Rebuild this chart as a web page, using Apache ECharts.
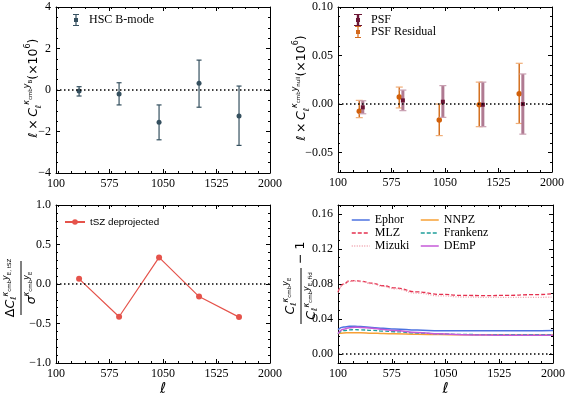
<!DOCTYPE html>
<html>
<head>
<meta charset="utf-8">
<script src="https://cdn.jsdelivr.net/npm/echarts@6/dist/echarts.min.js"></script>
<style>
  html, body { margin: 0; padding: 0; background: #fff; }
  #chart { width: 568px; height: 398px; }
</style>
</head>
<body>
<div id="chart"></div>
<script>
// ---- data ----
var ellBins = [305, 660, 1015, 1370, 1725];
var bmode   = [-0.05, -0.19, -1.55, 0.32, -1.25];
var bmodeLo = [-0.29, -0.72, -2.40, -0.83, -2.67];
var bmodeHi = [0.16, 0.35, -0.72, 1.44, 0.19];

var psfEll = [320, 676, 1031, 1386, 1741];
var psf    = [-0.0034, 0.0038, 0.0024, -0.0007, 0.0];
var psfLo  = [-0.0100, -0.0068, -0.0137, -0.0233, -0.0310];
var psfHi  = [0.0034, 0.0144, 0.0190, 0.0226, 0.0310];

var resEll = [289, 644, 999, 1354, 1709];
var res    = [-0.0075, 0.0072, -0.0164, -0.0007, 0.0106];
var resLo  = [-0.0140, -0.0040, -0.0325, -0.0233, -0.0200];
var resHi  = [0.0038, 0.0175, 0.0000, 0.0226, 0.0420];

var tsz = [0.065, -0.415, 0.337, -0.159, -0.419];

var ellCurve = [100, 150, 200, 250, 300, 400, 500, 600, 800, 1000, 1200, 1400, 1600, 1800, 2000];
var ephor    = [0.0280, 0.0310, 0.0318, 0.0318, 0.0315, 0.0305, 0.0295, 0.0287, 0.0275, 0.0268, 0.0266, 0.0266, 0.0267, 0.0268, 0.0270];
var mlz      = [0.0710, 0.0800, 0.0835, 0.0838, 0.0832, 0.0810, 0.0780, 0.0755, 0.0710, 0.0682, 0.0670, 0.0668, 0.0670, 0.0678, 0.0688];
var mizuki   = [0.0700, 0.0795, 0.0830, 0.0833, 0.0827, 0.0803, 0.0773, 0.0745, 0.0695, 0.0665, 0.0652, 0.0648, 0.0647, 0.0648, 0.0650];
var nnpz     = [0.0235, 0.0243, 0.0245, 0.0245, 0.0244, 0.0240, 0.0236, 0.0233, 0.0228, 0.0224, 0.0222, 0.0221, 0.0220, 0.0220, 0.0220];
var frankenz = [0.0235, 0.0268, 0.0278, 0.0280, 0.0278, 0.0272, 0.0264, 0.0256, 0.0242, 0.0232, 0.0226, 0.0223, 0.0222, 0.0222, 0.0222];
var demp     = [0.0235, 0.0285, 0.0303, 0.0307, 0.0305, 0.0296, 0.0283, 0.0270, 0.0248, 0.0232, 0.0222, 0.0218, 0.0216, 0.0215, 0.0215];

// tick labels
var xTicks   = [100, 575, 1050, 1525, 2000];
var yTicksA  = [-4, -2, 0, 2, 4];
var yTicksB  = [-0.05, 0, 0.05, 0.10];
var yTicksC  = [-1.0, -0.5, 0.0, 0.5, 1.0];
var yTicksD  = [0, 0.04, 0.08, 0.12, 0.16];

// ---- helpers ----
function minorTicks(min, max, major, ndiv) {
  var step = (major[1] - major[0]) / ndiv, out = [];
  var start = Math.ceil((min - 1e-9) / step);
  for (var k = start; k * step <= max + 1e-9; k++) {
    var v = +(k * step).toFixed(8);
    var isMajor = major.some(function (m) { return Math.abs(m - v) < step * 1e-3; });
    if (!isMajor && v >= min - 1e-9) out.push(v);
  }
  return out;
}
function fmt(d) {
  return function (v) { return (v < -1e-9 ? '\u2212' : '') + Math.abs(v).toFixed(d); };
}
var tickFont = { fontFamily: 'Liberation Serif', fontSize: 12, color: '#000' };

function makeAxes(dim, g, min, max, major, ndiv, labelFmt, extra) {
  var pos = dim === 'x' ? ['bottom', 'top'] : ['left', 'right'];
  var minor = minorTicks(min, max, major, ndiv);
  var base = { type: 'value', gridIndex: g, min: min, max: max, splitLine: { show: false } };
  var main = Object.assign({}, base, {
    position: pos[0],
    axisLine: { show: true, onZero: false, lineStyle: { color: '#000', width: 1 } },
    axisTick: { show: true, inside: true, length: 4, customValues: major, lineStyle: { color: '#000' } },
    axisLabel: Object.assign({ customValues: major, formatter: labelFmt, margin: 5 }, tickFont)
  }, extra || {});
  var mirror = Object.assign({}, base, {
    position: pos[1],
    axisLine: { show: true, onZero: false, lineStyle: { color: '#000', width: 1 } },
    axisTick: { show: true, inside: true, length: 4, customValues: major, lineStyle: { color: '#000' } },
    axisLabel: { show: false }
  });
  var mMain = Object.assign({}, base, {
    position: pos[0],
    axisLine: { show: false, onZero: false },
    axisTick: { show: true, inside: true, length: 2, customValues: minor, lineStyle: { color: '#000' } },
    axisLabel: { show: false }
  });
  var mMirror = Object.assign({}, mMain, { position: pos[1] });
  return [main, mirror, mMain, mMirror];
}

var ellName = {
  name: 'ℓ', nameLocation: 'middle', nameGap: 19,
  nameTextStyle: { fontFamily: 'DejaVu Sans', fontStyle: 'italic', fontSize: 15, color: '#000' }
};

var xAxes = [].concat(
  makeAxes('x', 0, 100, 2000, xTicks, 4, fmt(0)),
  makeAxes('x', 1, 100, 2000, xTicks, 4, fmt(0)),
  makeAxes('x', 2, 100, 2000, xTicks, 4, fmt(0), ellName),
  makeAxes('x', 3, 100, 2000, xTicks, 4, fmt(0), ellName)
);
var yAxes = [].concat(
  makeAxes('y', 0, -4, 4, yTicksA, 4, fmt(0)),
  makeAxes('y', 1, -0.07, 0.10, yTicksB, 5, fmt(2)),
  makeAxes('y', 2, -1, 1, yTicksC, 5, fmt(1)),
  makeAxes('y', 3, -0.01, 0.17, yTicksD, 4, fmt(2))
);

function rows(xs, ys, lo, hi) {
  return xs.map(function (x, i) { return [x, ys[i], lo[i], hi[i]]; });
}
function errBar(st) {
  return function (params, api) {
    var x = api.value(0), y = api.value(1);
    var pHi = api.coord([x, api.value(3)]);
    var pLo = api.coord([x, api.value(2)]);
    var p = api.coord([x, y]);
    var c = st.cap / 2;
    var marker = st.shape === 'circle'
      ? { type: 'circle', shape: { cx: p[0], cy: p[1], r: st.size / 2 }, style: { fill: st.marker } }
      : { type: 'rect', shape: { x: p[0] - st.size / 2, y: p[1] - st.size / 2, width: st.size, height: st.size }, style: { fill: st.marker } };
    return {
      type: 'group',
      children: [
        { type: 'line', shape: { x1: pHi[0], y1: pHi[1], x2: pLo[0], y2: pLo[1] }, style: { stroke: st.bar, lineWidth: st.barW } },
        { type: 'line', shape: { x1: pHi[0] - c, y1: pHi[1], x2: pHi[0] + c, y2: pHi[1] }, style: { stroke: st.capColor, lineWidth: 1.2 } },
        { type: 'line', shape: { x1: pLo[0] - c, y1: pLo[1], x2: pLo[0] + c, y2: pLo[1] }, style: { stroke: st.capColor, lineWidth: 1.2 } },
        marker
      ]
    };
  };
}

var zeroLine = {
  silent: true, symbol: 'none', label: { show: false },
  lineStyle: { type: [1.5, 2.5], color: '#000', width: 1.5 },
  emphasis: { disabled: true },
  data: [{ yAxis: 0 }]
};

var ebIcon = 'path://M1,0H7V1H1Z M3.4,1H4.6V11H3.4Z M1,11H7V12H1Z M2,4H6V8H2Z';
var ebIconThick = 'path://M0,0H8V1H0Z M2.8,1H5.2V11H2.8Z M0,11H8V12H0Z M2,4H6V8H2Z';

function curve(ys) { return ellCurve.map(function (x, i) { return [x, ys[i]]; }); }
function lineSeries(name, ys, color, type, width, extra) {
  return Object.assign({
    name: name, type: 'line', xAxisIndex: 12, yAxisIndex: 12,
    data: curve(ys), smooth: true, smoothMonotone: 'x', symbol: 'none', showSymbol: false,
    itemStyle: { color: color },
    lineStyle: { color: color, width: width, type: type }
  }, extra || {});
}

function richSet(big, lh) {
  return {
    m:  { fontFamily: 'DejaVu Sans', fontSize: big, fontStyle: 'italic', lineHeight: lh, verticalAlign: 'middle' },
    r:  { fontFamily: 'DejaVu Sans', fontSize: big, lineHeight: lh, verticalAlign: 'middle' },
    sub:{ fontFamily: 'DejaVu Sans', fontSize: 8, fontStyle: 'italic', verticalAlign: 'bottom', padding: [0, 0, 2, 0] },
    sp: { fontFamily: 'DejaVu Sans', fontSize: 8, fontStyle: 'italic', verticalAlign: 'top', padding: [0, 0, 0, 0] },
    su: { fontFamily: 'DejaVu Sans', fontSize: 8, verticalAlign: 'top', padding: [1, 0, 0, 0] },
    ss: { fontFamily: 'DejaVu Sans', fontSize: 5.5, verticalAlign: 'top', padding: [5, 0, 0, 0] }
  };
}
var labelRich = richSet(12.5, 22);
var fracRich = richSet(12.5, 18);

function yLabel(x, y, text) {
  return {
    type: 'text', x: x, y: y, rotation: Math.PI / 2,
    style: { text: text, rich: labelRich, fill: '#000', align: 'center', verticalAlign: 'middle' }
  };
}
function fracLabel(x, y, num, den, half, tail) {
  var kids = [
    { type: 'text', x: 0, y: -10, style: { text: num, rich: fracRich, fill: '#000', align: 'center', verticalAlign: 'middle' } },
    { type: 'line', shape: { x1: -half, y1: 0, x2: half, y2: 0 }, style: { stroke: '#000', lineWidth: 1 } },
    { type: 'text', x: 0, y: 11, style: { text: den, rich: fracRich, fill: '#000', align: 'center', verticalAlign: 'middle' } }
  ];
  if (tail) {
    kids.push({ type: 'text', x: half + 4, y: 0, style: { text: tail, rich: fracRich, fill: '#000', align: 'left', verticalAlign: 'middle' } });
  }
  return { type: 'group', x: x, y: y, rotation: Math.PI / 2, children: kids };
}

var serifLegend = { fontFamily: 'Liberation Serif', fontSize: 12, color: '#000' };

var chart = echarts.init(document.getElementById('chart'), null, { renderer: 'canvas' });
chart.setOption({
  animation: false,
  backgroundColor: '#fff',
  grid: [
    { left: 56, top: 7, width: 214, height: 166 },
    { left: 338, top: 7, width: 214, height: 165 },
    { left: 56, top: 205, width: 214, height: 165 },
    { left: 338, top: 205, width: 215, height: 165 }
  ],
  xAxis: xAxes,
  yAxis: yAxes,
  legend: [
    { left: 68, top: 9, itemWidth: 8, itemHeight: 12, selectedMode: false,
      textStyle: Object.assign({ padding: [0, 0, 0, 4] }, serifLegend),
      data: [{ name: 'HSC B-mode', icon: ebIcon }] },
    { left: 349, top: 9, orient: 'vertical', itemGap: 0, itemWidth: 8, itemHeight: 12, selectedMode: false,
      textStyle: Object.assign({ padding: [0, 0, 0, 4] }, serifLegend),
      data: [{ name: 'PSF', icon: ebIconThick }, { name: 'PSF Residual', icon: ebIcon }] },
    { left: 59, top: 212, itemWidth: 20, itemHeight: 7, selectedMode: false,
      textStyle: { fontFamily: 'Liberation Sans', fontSize: 9.8, color: '#000' },
      data: ['tSZ deprojected'] },
    { left: 346, top: 209, orient: 'vertical', itemGap: 1, itemWidth: 18, itemHeight: 12, selectedMode: false,
      itemStyle: { opacity: 0 }, lineStyle: { width: 1.5 },
      textStyle: serifLegend,
      data: ['Ephor', 'MLZ', 'Mizuki'] },
    { left: 415, top: 209, orient: 'vertical', itemGap: 1, itemWidth: 18, itemHeight: 12, selectedMode: false,
      itemStyle: { opacity: 0 }, lineStyle: { width: 1.5 },
      textStyle: serifLegend,
      data: ['NNPZ', 'Frankenz', 'DEmP'] }
  ],
  series: [
    { name: 'HSC B-mode', type: 'custom', xAxisIndex: 0, yAxisIndex: 0,
      itemStyle: { color: '#35505f' },
      renderItem: errBar({ bar: '#35505f', capColor: '#35505f', barW: 1.2, cap: 5, marker: '#35505f', shape: 'circle', size: 5 }),
      encode: { x: 0, y: [1, 2, 3] },
      data: rows(ellBins, bmode, bmodeLo, bmodeHi),
      markLine: zeroLine, z: 3 },
    { name: 'PSF Residual', type: 'custom', xAxisIndex: 4, yAxisIndex: 4,
      itemStyle: { color: '#d4691c' },
      renderItem: errBar({ bar: '#d4701f', capColor: '#f0ae78', barW: 1.5, cap: 7, marker: '#d2600a', shape: 'circle', size: 5.5 }),
      encode: { x: 0, y: [1, 2, 3] },
      data: rows(resEll, res, resLo, resHi),
      markLine: zeroLine, z: 3 },
    { name: 'PSF', type: 'custom', xAxisIndex: 4, yAxisIndex: 4,
      itemStyle: { color: '#6b1535' },
      renderItem: errBar({ bar: '#b07a92', capColor: '#c9a0b2', barW: 3, cap: 7, marker: '#6b1535', shape: 'rect', size: 4 }),
      encode: { x: 0, y: [1, 2, 3] },
      data: rows(psfEll, psf, psfLo, psfHi), z: 3 },
    { name: 'tSZ deprojected', type: 'line', xAxisIndex: 8, yAxisIndex: 8,
      data: ellBins.map(function (x, i) { return [x, tsz[i]]; }),
      symbol: 'circle', symbolSize: 6, showSymbol: true,
      itemStyle: { color: '#e5534b' },
      lineStyle: { color: '#e5534b', width: 1.2 },
      markLine: zeroLine },
    lineSeries('Ephor', ephor, '#4c72e0', 'solid', 1.5, { markLine: zeroLine }),
    lineSeries('MLZ', mlz, '#e5304f', [4, 2], 1.3),
    lineSeries('Mizuki', mizuki, '#f0a0ac', [1, 1.5], 1.3),
    lineSeries('NNPZ', nnpz, '#f7a035', 'solid', 1.5),
    lineSeries('Frankenz', frankenz, '#1f9e9a', [4, 2], 1.3),
    lineSeries('DEmP', demp, '#c65ad8', 'solid', 1.5)
  ],
  graphic: [
    yLabel(34, 88, '{m|ℓ}{r|\u2009×\u2009}{m|C}{sub|ℓ}{sp|κ}{ss|cmb}{sp|y}{ss|B}{r|(×10}{su|6}{r|)}'),
    yLabel(302, 88, '{m|ℓ}{r|\u2009×\u2009}{m|C}{sub|ℓ}{sp|κ}{ss|cmb}{sp|y}{ss|null}{r|(×10}{su|6}{r|)}'),
    fracLabel(21, 288, '{r|Δ}{m|C}{sub|ℓ}{sp|κ}{ss|cmb}{sp|y}{ss|E, tSZ}', '{m|σ}{sp|κ}{ss|cmb}{sp|y}{ss|E}', 27),
    fracLabel(301, 296, '{m|C}{sub|ℓ}{sp|κ}{ss|cmb}{sp|y}{ss|E}', '{m|C}{sub|ℓ}{sp|κ}{ss|cmb}{sp|y}{ss|E, fid}', 28, '{r|− 1}')
  ]
});
</script>
</body>
</html>
